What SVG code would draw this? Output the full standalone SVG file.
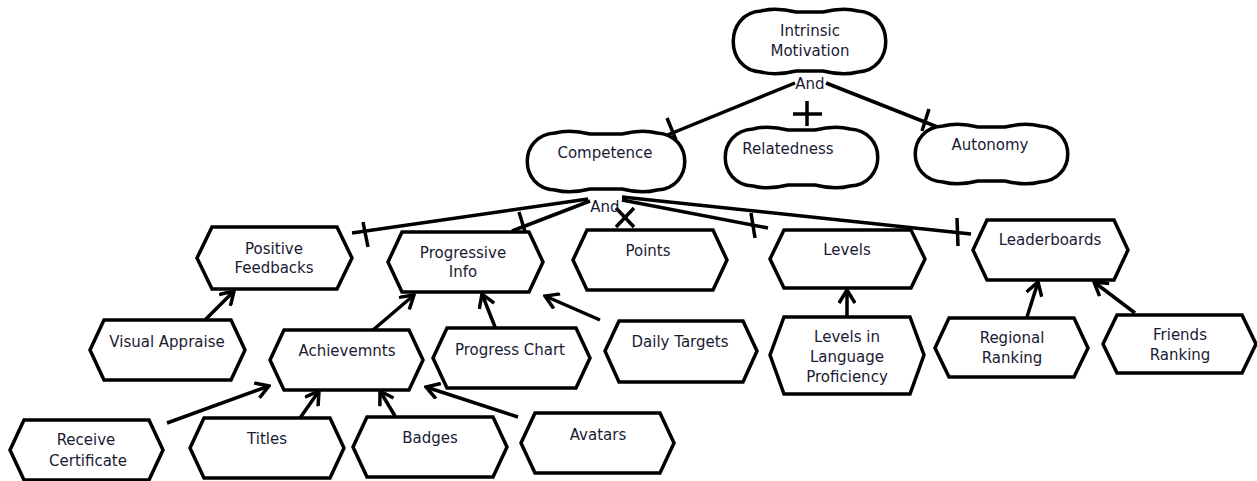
<svg xmlns="http://www.w3.org/2000/svg" width="1257" height="481" viewBox="0 0 1257 481">
<style>
.n{fill:#fff;stroke:#000;stroke-width:3.5;stroke-linejoin:miter}
.t{font-family:"DejaVu Sans",sans-serif;font-size:15px;fill:#1a1a33;text-anchor:middle;dominant-baseline:central}
.c{fill:none;stroke:#000;stroke-width:3.5;stroke-linecap:butt}
.a{marker-end:url(#arr)}
</style>
<defs>
<marker id="arr" viewBox="0 0 18 18" refX="16" refY="9" markerWidth="18" markerHeight="18" markerUnits="userSpaceOnUse" orient="auto">
<path d="M3,1 L16,9 L3,17" fill="none" stroke="#000" stroke-width="3.5"/>
</marker>
</defs>
<rect width="1257" height="481" fill="#fff"/>
<g id="connectors">
<line class="c" x1="795" y1="83" x2="665" y2="136"/>
<line class="c" x1="667" y1="118" x2="676" y2="140"/>
<line class="c" x1="807" y1="101" x2="807" y2="126"/>
<line class="c" x1="793" y1="114" x2="822" y2="114"/>
<line class="c" x1="826" y1="83" x2="940" y2="128"/>
<line class="c" x1="929" y1="109" x2="922" y2="131"/>
<line class="c" x1="588" y1="199" x2="352" y2="233"/>
<line class="c" x1="363" y1="222" x2="368" y2="247"/>
<line class="c" x1="590" y1="201" x2="512" y2="231"/>
<line class="c" x1="519" y1="212" x2="526" y2="235"/>
<line class="c" x1="616" y1="208" x2="634" y2="227"/>
<line class="c" x1="634" y1="208" x2="616" y2="227"/>
<line class="c" x1="622" y1="200" x2="768" y2="228"/>
<line class="c" x1="751" y1="213" x2="755" y2="238"/>
<line class="c" x1="622" y1="197" x2="971" y2="234"/>
<line class="c" x1="957" y1="218" x2="958" y2="246"/>
<line class="c a" x1="205" y1="320" x2="234" y2="291"/>
<line class="c a" x1="373" y1="330" x2="414" y2="295"/>
<line class="c a" x1="495" y1="327" x2="482" y2="294"/>
<line class="c a" x1="600" y1="320" x2="545" y2="296"/>
<line class="c a" x1="847" y1="317" x2="847" y2="290"/>
<line class="c a" x1="1027" y1="317" x2="1038" y2="282"/>
<line class="c a" x1="1135" y1="313" x2="1094" y2="282"/>
<line class="c a" x1="167" y1="423" x2="269" y2="386"/>
<line class="c a" x1="300" y1="418" x2="319" y2="391"/>
<line class="c a" x1="395" y1="416" x2="380" y2="391"/>
<line class="c a" x1="518" y1="417" x2="426" y2="387"/>
</g>
<g id="intrinsic">
<path class="n" d="M761,11 Q776,7 796,12 L823,12 Q843,7 858,11 C895,13 895,70 858,72 Q843,76 823,71 L796,71 Q776,76 761,72 C724,70 724,13 761,11 Z"/>
<text class="t" x="810" y="31">Intrinsic</text>
<text class="t" x="810" y="51">Motivation</text>
<text class="t" x="810" y="84">And</text>
</g>
<g id="competence">
<path class="n" d="M555,133 Q570,129 590,134 L622,134 Q642,129 657,133 C694,135 694,188 657,190 Q642,194 622,189 L590,189 Q570,194 555,190 C518,188 518,135 555,133 Z"/>
<text class="t" x="605" y="153">Competence</text>
<text class="t" x="605" y="207">And</text>
</g>
<g id="relatedness">
<path class="n" d="M753,129 Q768,125 788,130 L815,130 Q835,125 850,129 C887,131 887,184 850,186 Q835,190 815,185 L788,185 Q768,190 753,186 C716,184 716,131 753,129 Z"/>
<text class="t" x="788" y="149">Relatedness</text>
</g>
<g id="autonomy">
<path class="n" d="M943,126 Q958,122 978,127 L1005,127 Q1025,122 1040,126 C1077,128 1077,180 1040,182 Q1025,186 1005,181 L978,181 Q958,186 943,182 C906,180 906,128 943,126 Z"/>
<text class="t" x="990" y="145">Autonomy</text>
</g>
<g id="positive-feedbacks">
<path class="n" d="M197,258 L212,227 L337,227 L352,258 L337,289 L212,289 Z"/>
<text class="t" x="274" y="249">Positive</text>
<text class="t" x="274" y="268">Feedbacks</text>
</g>
<g id="progressive-info">
<path class="n" d="M388,262 L402,232 L529,232 L543,262 L529,292 L402,292 Z"/>
<text class="t" x="463" y="253">Progressive</text>
<text class="t" x="463" y="272">Info</text>
</g>
<g id="points">
<path class="n" d="M573,260 L587,230 L713,230 L727,260 L713,290 L587,290 Z"/>
<text class="t" x="648" y="251">Points</text>
</g>
<g id="levels">
<path class="n" d="M770,259 L784,230 L911,230 L925,259 L911,288 L784,288 Z"/>
<text class="t" x="847" y="250">Levels</text>
</g>
<g id="leaderboards">
<path class="n" d="M973,250 L987,220 L1114,220 L1128,250 L1114,280 L987,280 Z"/>
<text class="t" x="1050" y="240">Leaderboards</text>
</g>
<g id="visual-appraise">
<path class="n" d="M90,350 L104,320 L231,320 L245,350 L231,380 L104,380 Z"/>
<text class="t" x="167" y="342">Visual Appraise</text>
</g>
<g id="achievemnts">
<path class="n" d="M270,360 L284,330 L409,330 L423,360 L409,390 L284,390 Z"/>
<text class="t" x="347" y="351">Achievemnts</text>
</g>
<g id="progress-chart">
<path class="n" d="M433,358 L447,328 L576,328 L590,358 L576,388 L447,388 Z"/>
<text class="t" x="510" y="350">Progress Chart</text>
</g>
<g id="daily-targets">
<path class="n" d="M605,351 L619,321 L743,321 L757,351 L743,382 L619,382 Z"/>
<text class="t" x="680" y="342">Daily Targets</text>
</g>
<g id="levels-language">
<path class="n" d="M770,355 L784,317 L910,317 L924,355 L910,394 L784,394 Z"/>
<text class="t" x="847" y="337">Levels in</text>
<text class="t" x="847" y="357">Language</text>
<text class="t" x="847" y="377">Proficiency</text>
</g>
<g id="regional-ranking">
<path class="n" d="M935,348 L949,318 L1074,318 L1088,348 L1074,377 L949,377 Z"/>
<text class="t" x="1012" y="338">Regional</text>
<text class="t" x="1012" y="358">Ranking</text>
</g>
<g id="friends-ranking">
<path class="n" d="M1103,344 L1117,315 L1242,315 L1256,344 L1242,373 L1117,373 Z"/>
<text class="t" x="1180" y="335">Friends</text>
<text class="t" x="1180" y="355">Ranking</text>
</g>
<g id="receive-certificate">
<path class="n" d="M10,450 L24,420 L149,420 L163,450 L149,480 L24,480 Z"/>
<text class="t" x="86" y="440">Receive</text>
<text class="t" x="88" y="461">Certificate</text>
</g>
<g id="titles">
<path class="n" d="M190,448 L204,418 L330,418 L344,448 L330,478 L204,478 Z"/>
<text class="t" x="267" y="439">Titles</text>
</g>
<g id="badges">
<path class="n" d="M353,447 L367,417 L493,417 L507,447 L493,477 L367,477 Z"/>
<text class="t" x="430" y="438">Badges</text>
</g>
<g id="avatars">
<path class="n" d="M521,443 L535,413 L660,413 L674,443 L660,473 L535,473 Z"/>
<text class="t" x="598" y="435">Avatars</text>
</g>
</svg>
